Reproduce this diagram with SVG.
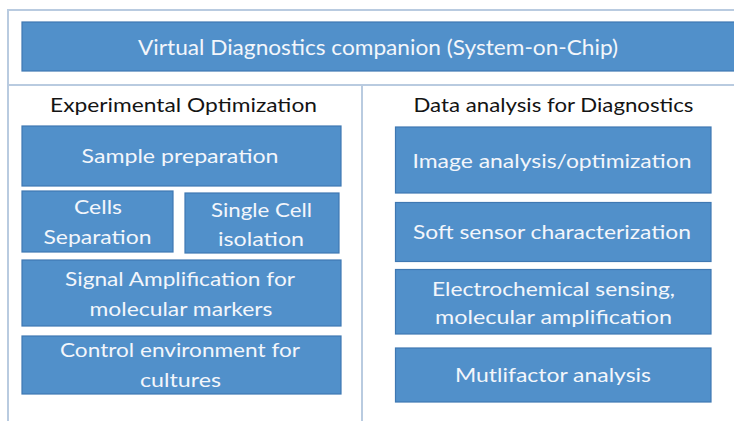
<svg xmlns="http://www.w3.org/2000/svg" width="734" height="421" viewBox="0 0 734 421">
<style>
.frame{fill:none;stroke:#b9cbe0;stroke-width:2}
.box{fill:#5190ca;stroke:#3f78b2;stroke-width:1.2}
.t{font-family:Lato,"Open Sans","DejaVu Sans",sans-serif;fill:#f3f6fb;font-size:20px;text-anchor:middle}
.title{font-size:22px}
.h{font-family:Lato,"Open Sans","DejaVu Sans",sans-serif;fill:#141414;font-size:19px;text-anchor:middle}
</style>
<rect width="734" height="421" fill="#ffffff"/>
<g id="frame">
<rect class="frame" x="8" y="10" width="740" height="430"/>
<line class="frame" x1="8" y1="85" x2="740" y2="85"/>
<line class="frame" x1="362" y1="85" x2="362" y2="430"/>
</g>
<g id="connectors"></g>
<g id="top">
<rect class="box" x="22" y="22" width="720" height="49"/>
<text class="t title" x="378" y="54.5" textLength="480" lengthAdjust="spacingAndGlyphs">Virtual Diagnostics companion (System-on-Chip)</text>
</g>
<g id="heading-left">
<text class="h" x="183.5" y="112" textLength="267" lengthAdjust="spacingAndGlyphs">Experimental Optimization</text>
</g>
<g id="heading-right">
<text class="h" x="553.5" y="112" textLength="280" lengthAdjust="spacingAndGlyphs">Data analysis for Diagnostics</text>
</g>
<g id="sample-preparation">
<rect class="box" x="22" y="126" width="319" height="60"/>
<text class="t" x="180" y="163" textLength="197" lengthAdjust="spacingAndGlyphs">Sample preparation</text>
</g>
<g id="cells-separation">
<rect class="box" x="22" y="191" width="151" height="61"/>
<text class="t" x="98" y="213.5" textLength="48" lengthAdjust="spacingAndGlyphs">Cells</text>
<text class="t" x="97.5" y="243.5" textLength="108" lengthAdjust="spacingAndGlyphs">Separation</text>
</g>
<g id="single-cell-isolation">
<rect class="box" x="185" y="193" width="154" height="60"/>
<text class="t" x="261.5" y="217" textLength="101" lengthAdjust="spacingAndGlyphs">Single Cell</text>
<text class="t" x="261" y="245.5" textLength="86" lengthAdjust="spacingAndGlyphs">isolation</text>
</g>
<g id="signal-amplification">
<rect class="box" x="22" y="260" width="319" height="66"/>
<text class="t" x="180" y="285.5" textLength="230" lengthAdjust="spacingAndGlyphs">Signal Amplification for</text>
<text class="t" x="181" y="315.5" textLength="183" lengthAdjust="spacingAndGlyphs">molecular markers</text>
</g>
<g id="control-environment">
<rect class="box" x="22" y="336" width="319" height="58"/>
<text class="t" x="180" y="357" textLength="240" lengthAdjust="spacingAndGlyphs">Control environment for</text>
<text class="t" x="180.5" y="387" textLength="81" lengthAdjust="spacingAndGlyphs">cultures</text>
</g>
<g id="image-analysis">
<rect class="box" x="395.5" y="127" width="315.5" height="66"/>
<text class="t" x="552" y="167.5" textLength="279" lengthAdjust="spacingAndGlyphs">Image analysis/optimization</text>
</g>
<g id="soft-sensor">
<rect class="box" x="395.5" y="202.5" width="315.5" height="59"/>
<text class="t" x="552" y="238.5" textLength="278" lengthAdjust="spacingAndGlyphs">Soft sensor characterization</text>
</g>
<g id="electrochemical">
<rect class="box" x="395.5" y="269.5" width="315.5" height="64.5"/>
<text class="t" x="553.5" y="295.5" textLength="243" lengthAdjust="spacingAndGlyphs">Electrochemical sensing,</text>
<text class="t" x="553.5" y="324" textLength="237" lengthAdjust="spacingAndGlyphs">molecular amplification</text>
</g>
<g id="multifactor">
<rect class="box" x="395.5" y="348" width="315.5" height="54"/>
<text class="t" x="553" y="382" textLength="196" lengthAdjust="spacingAndGlyphs">Mutlifactor analysis</text>
</g>
</svg>
